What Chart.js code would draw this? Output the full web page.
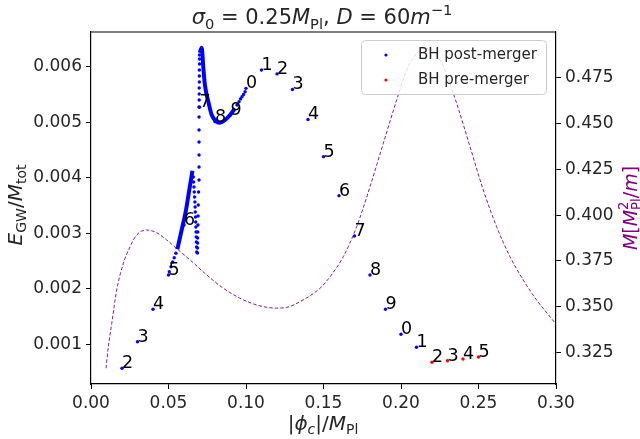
<!DOCTYPE html>
<html>
<head>
<meta charset="utf-8">
<script src="https://cdn.jsdelivr.net/npm/chart.js@4.4.0/dist/chart.umd.min.js"></script>
<style>
    html, body { margin: 0; padding: 0; background: #fff; }
    #wrap { width: 640px; height: 439px; }
</style>
</head>
<body>
<div id="wrap"><canvas id="gwChart" width="640" height="439"></canvas></div>
<script>
// grid runs, labelled by last digit of the index
const postPhi = [0.02, 0.03, 0.04, 0.05, 0.06, 0.07, 0.08, 0.09, 0.10, 0.11, 0.12, 0.13, 0.14, 0.15, 0.16, 0.17, 0.18, 0.19, 0.20, 0.21];
const postE = [0.000568, 0.001047, 0.00163, 0.002248, 0.00315, 0.00527, 0.00501, 0.00513, 0.00561, 0.00594, 0.00587, 0.00559, 0.00505, 0.00438, 0.003677, 0.00295, 0.002248, 0.00163, 0.00118, 0.000946];
const postTags = ['2', '3', '4', '5', '6', '7', '8', '9', '0', '1', '2', '3', '4', '5', '6', '7', '8', '9', '0', '1'];
const prePhi = [0.22, 0.23, 0.24, 0.25];
const preE = [0.000676, 0.000705, 0.000735, 0.00077];
const preTags = ['2', '3', '4', '5'];

// refined scan between 0.05 and 0.10 (sparse dots)
const riseDotsPhi = [0.0505, 0.0516, 0.0527, 0.0537, 0.0548];
const riseDotsE = [0.002308, 0.002398, 0.002482, 0.00256, 0.002639];
const fallDotsPhi = [0.0660, 0.06619, 0.06645, 0.06665, 0.06684, 0.06703, 0.06716, 0.06729, 0.06742, 0.06755, 0.06768, 0.06781, 0.06794, 0.0680, 0.06813, 0.06819];
const fallDotsE = [0.004013, 0.003923, 0.003833, 0.003743, 0.003653, 0.003563, 0.003473, 0.003383, 0.003293, 0.003203, 0.003113, 0.003023, 0.002933, 0.002843, 0.002753, 0.002663];
const columnPhi = [0.0687, 0.0687, 0.0688, 0.0688, 0.0689, 0.0690, 0.0691, 0.0692, 0.0694, 0.0697, 0.0697, 0.0697, 0.0697, 0.0697, 0.0697, 0.0697, 0.0698, 0.0698, 0.0698, 0.0699, 0.0699, 0.0699, 0.0700, 0.0700, 0.0700];
const columnE = [0.002644, 0.002734, 0.002824, 0.002914, 0.003023, 0.003149, 0.003311, 0.003509, 0.003743, 0.003959, 0.004193, 0.004409, 0.004643, 0.004859, 0.005094, 0.005274, 0.0054, 0.005508, 0.005616, 0.005724, 0.005832, 0.00594, 0.006049, 0.006139, 0.006211];
const tailDotsPhi = [0.0942, 0.0955, 0.0965, 0.0974, 0.0984, 0.0994];
const tailDotsE = [0.00531, 0.00537, 0.00542, 0.00546, 0.0055, 0.00555];

// refined scan (dense parts)
const branchOnePhi = [0.0557, 0.0585, 0.0613, 0.0634, 0.0650, 0.0654];
const branchOneE = [0.002711, 0.003059, 0.003419, 0.003779, 0.004049, 0.004127];
const branchTwoPhi = [0.0702, 0.0714, 0.0725, 0.0735, 0.0757, 0.0779, 0.0811, 0.0832, 0.0865, 0.0897, 0.0929];
const branchTwoE = [0.00625, 0.006342, 0.005971, 0.00567, 0.00537, 0.00513, 0.00501, 0.004991, 0.00504, 0.00513, 0.00525];

// mass curve, right axis
const massPhi = [0.0097, 0.0112, 0.0134, 0.0166, 0.0209, 0.0252, 0.0295, 0.0359, 0.0424, 0.0488, 0.0563, 0.0639, 0.0746, 0.0854, 0.0961, 0.1069, 0.1155, 0.1198, 0.1263, 0.1348, 0.1477, 0.1542, 0.1628, 0.1714, 0.18, 0.1886, 0.1972, 0.2037, 0.2101, 0.214, 0.2209, 0.2273, 0.2359, 0.2445, 0.2531, 0.2617, 0.2703, 0.2789, 0.2875, 0.2961, 0.3004];
const massM = [0.3165, 0.3283, 0.341, 0.3592, 0.3738, 0.3828, 0.3892, 0.3919, 0.3904, 0.3865, 0.381, 0.3756, 0.3674, 0.3601, 0.3547, 0.351, 0.3495, 0.3493, 0.3497, 0.3528, 0.3601, 0.3664, 0.3774, 0.3937, 0.4155, 0.4392, 0.4628, 0.4792, 0.4883, 0.491, 0.4892, 0.481, 0.461, 0.4374, 0.4137, 0.3937, 0.3774, 0.3646, 0.3537, 0.3446, 0.3401];

const xTicks = [0, 0.05, 0.10, 0.15, 0.20, 0.25, 0.30];
const eTicks = [0.001, 0.002, 0.003, 0.004, 0.005, 0.006];
const mTicks = [0.325, 0.350, 0.375, 0.400, 0.425, 0.450, 0.475];

const FONT = '"DejaVu Sans", sans-serif';
const TEXT = '#262626';

function pts(xs, ys) {
    return xs.map((x, i) => ({ x: x, y: ys[i] }));
}

function partFont(flags, size) {
    const small = /[bps]/.test(flags);
    return (flags.includes('i') ? 'italic ' : '') + (small ? size * 0.7 : size) + 'px ' + FONT;
}

function partWidth(ctx, p, size) {
    ctx.font = partFont(p[1], size);
    if (p[1].includes('s')) {
        const ab = p[0].split('|');
        return Math.max(ctx.measureText(ab[0]).width, ctx.measureText(ab[1]).width);
    }
    return ctx.measureText(p[0]).width;
}

// centred at x, baseline y
function drawRich(ctx, parts, x, y, size, color) {
    let w = 0;
    parts.forEach(p => { w += partWidth(ctx, p, size); });
    let cx = x - w / 2;
    ctx.fillStyle = color;
    ctx.textAlign = 'left';
    ctx.textBaseline = 'alphabetic';
    parts.forEach(p => {
        const pw = partWidth(ctx, p, size);
        const f = p[1];
        if (f.includes('s')) {
            const ab = p[0].split('|');
            ctx.fillText(ab[0], cx, y - size * 0.45);
            ctx.fillText(ab[1], cx, y + size * 0.22);
        } else {
            const dy = f.includes('b') ? size * 0.22 : (f.includes('p') ? -size * 0.42 : 0);
            ctx.fillText(p[0], cx, y + dy);
        }
        cx += pw;
    });
}

const decorPlugin = {
    id: 'decor',
    afterDatasetsDraw(chart) {
        const ctx = chart.ctx;
        const xs = chart.scales.x, ys = chart.scales.y;
        const area = chart.chartArea;

        // run labels
        ctx.save();
        ctx.font = '17.5px ' + FONT;
        ctx.fillStyle = '#000';
        ctx.textAlign = 'left';
        ctx.textBaseline = 'alphabetic';
        postPhi.forEach((v, i) => ctx.fillText(postTags[i], xs.getPixelForValue(v), ys.getPixelForValue(postE[i])));
        prePhi.forEach((v, i) => ctx.fillText(preTags[i], xs.getPixelForValue(v), ys.getPixelForValue(preE[i])));
        ctx.restore();

        // top spine
        ctx.save();
        ctx.strokeStyle = '#000';
        ctx.lineWidth = 1.2;
        ctx.beginPath();
        ctx.moveTo(area.left, area.top);
        ctx.lineTo(area.right, area.top);
        ctx.stroke();
        ctx.restore();

        // legend
        ctx.save();
        const lx = 361.5, ly = 40.5, lw = 185, lh = 54, r = 4;
        ctx.beginPath();
        ctx.moveTo(lx + r, ly);
        ctx.arcTo(lx + lw, ly, lx + lw, ly + lh, r);
        ctx.arcTo(lx + lw, ly + lh, lx, ly + lh, r);
        ctx.arcTo(lx, ly + lh, lx, ly, r);
        ctx.arcTo(lx, ly, lx + lw, ly, r);
        ctx.closePath();
        ctx.fillStyle = 'rgba(255,255,255,0.8)';
        ctx.fill();
        ctx.strokeStyle = '#cccccc';
        ctx.lineWidth = 1;
        ctx.stroke();
        [['#0000ff', 'BH post-merger', 55], ['#ff0000', 'BH pre-merger', 80]].forEach(e => {
            ctx.fillStyle = e[0];
            ctx.beginPath();
            ctx.arc(386, e[2], 1.6, 0, Math.PI * 2);
            ctx.fill();
            ctx.fillStyle = TEXT;
            ctx.font = '15px ' + FONT;
            ctx.textBaseline = 'middle';
            ctx.fillText(e[1], 418, e[2]);
        });
        ctx.restore();

        // title and axis labels
        ctx.save();
        drawRich(ctx, [['σ', 'i'], ['0', 'b'], [' = 0.25', 'n'], ['M', 'i'], ['Pl', 'b'], [', ', 'n'], ['D', 'i'], [' = 60', 'n'], ['m', 'i'], ['−1', 'p']], 322, 24, 21, TEXT);
        drawRich(ctx, [['|', 'n'], ['ϕ', 'i'], ['c', 'ib'], ['|/', 'n'], ['M', 'i'], ['Pl', 'b']], 323, 430, 20, TEXT);
        ctx.translate(22, 205);
        ctx.rotate(-Math.PI / 2);
        drawRich(ctx, [['E', 'i'], ['GW', 'b'], ['/', 'n'], ['M', 'i'], ['tot', 'b']], 0, 0, 20, TEXT);
        ctx.restore();

        ctx.save();
        ctx.translate(637, 208);
        ctx.rotate(-Math.PI / 2);
        drawRich(ctx, [['M', 'i'], ['[', 'n'], ['M', 'i'], ['2|Pl', 's'], ['/', 'n'], ['m', 'i'], [']', 'n']], 0, 0, 19, '#800080');
        ctx.restore();
    }
};

function fixTicks(values) {
    return function (scale) {
        scale.ticks = values.map(v => ({ value: v }));
    };
}

const tickFont = { family: FONT, size: 17 };
const axisGrid = { drawOnChartArea: false, drawTicks: true, tickLength: 5, color: '#000', lineWidth: 1 };
const axisBorder = { display: true, color: '#000', width: 1.2 };

new Chart(document.getElementById('gwChart'), {
    type: 'scatter',
    data: {
        datasets: [
            {
                data: pts(massPhi, massM), yAxisID: 'y2', showLine: true,
                borderColor: '#800080', borderWidth: 0.9, borderDash: [3.5, 2],
                pointRadius: 0, cubicInterpolationMode: 'monotone'
            },
            {
                data: pts(branchOnePhi, branchOneE), yAxisID: 'y', showLine: true,
                borderColor: '#0000ff', borderWidth: 4, pointRadius: 0, cubicInterpolationMode: 'monotone'
            },
            {
                data: pts(branchTwoPhi, branchTwoE), yAxisID: 'y', showLine: true,
                borderColor: '#0000ff', borderWidth: 4, pointRadius: 0, cubicInterpolationMode: 'monotone'
            },
            {
                data: pts(riseDotsPhi, riseDotsE).concat(pts(fallDotsPhi, fallDotsE), pts(columnPhi, columnE), pts(tailDotsPhi, tailDotsE)),
                yAxisID: 'y', backgroundColor: '#0000ff', borderWidth: 0, pointRadius: 1.7
            },
            {
                data: pts(postPhi, postE), yAxisID: 'y',
                backgroundColor: '#0000ff', borderWidth: 0, pointRadius: 1.7
            },
            {
                data: pts(prePhi, preE), yAxisID: 'y',
                backgroundColor: '#ff0000', borderWidth: 0, pointRadius: 1.7
            }
        ]
    },
    options: {
        responsive: false,
        animation: false,
        events: [],
        layout: { padding: { top: 32, left: 0, right: 0, bottom: 0 } },
        plugins: { legend: { display: false }, tooltip: { enabled: false } },
        scales: {
            x: {
                type: 'linear', position: 'bottom', min: 0, max: 0.30,
                afterBuildTicks: fixTicks(xTicks),
                afterFit: s => { s.height = 55; },
                ticks: { font: tickFont, color: TEXT, padding: 4, maxRotation: 0, callback: v => v.toFixed(2) },
                grid: axisGrid, border: axisBorder
            },
            y: {
                type: 'linear', position: 'left', min: 0.000285, max: 0.006625,
                afterBuildTicks: fixTicks(eTicks),
                afterFit: s => { s.width = 91; },
                ticks: { font: tickFont, color: TEXT, padding: 4, callback: v => v.toFixed(3) },
                grid: axisGrid, border: axisBorder
            },
            y2: {
                type: 'linear', position: 'right', min: 0.3079, max: 0.4999,
                afterBuildTicks: fixTicks(mTicks),
                afterFit: s => { s.width = 84; },
                ticks: { font: tickFont, color: TEXT, padding: 4, callback: v => v.toFixed(3) },
                grid: axisGrid, border: axisBorder
            }
        }
    },
    plugins: [decorPlugin]
});
</script>
</body>
</html>
